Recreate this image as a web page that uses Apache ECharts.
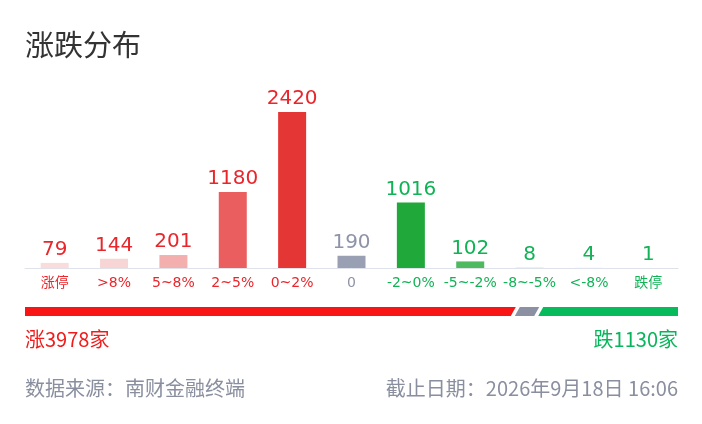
<!DOCTYPE html>
<html>
<head>
<meta charset="utf-8">
<script src="https://cdn.jsdelivr.net/npm/echarts@6/dist/echarts.min.js"></script>
<style>
html,body{margin:0;padding:0;background:#fff;}
#c{width:702px;height:424px;}
</style>
</head>
<body>
<div id="c"></div>
<script>
var categories = ['涨停', '>8%', '5~8%', '2~5%', '0~2%', '0', '-2~0%', '-5~-2%', '-8~-5%', '<-8%', '跌停'];
var values = [79, 144, 201, 1180, 2420, 190, 1016, 102, 8, 4, 1];
var barColors = ['#fadcdc', '#f8d5d5', '#f3aeae', '#ea5e5f', '#e53636', '#9aa0b3', '#20a83b', '#4dba5f', '#cdeed4', '#def3e3', '#eef8f1'];
var labelColors = ['#e8262b', '#e8262b', '#e8262b', '#e8262b', '#e8262b', '#8e93a8', '#12b256', '#12b256', '#12b256', '#12b256', '#12b256'];
var upCount = 3978, flatCount = 190, downCount = 1130;
var titleText = '涨跌分布';
var upText = '涨' + upCount + '家';
var downText = '跌' + downCount + '家';
var sourceText = '数据来源：南财金融终端';
var dateText = '截止日期：2026年9月18日 16:06';

var segValues = [upCount, flatCount, downCount];
var segColors = ['#f91515', '#8b90a3', '#07ba5b'];
var total = upCount + flatCount + downCount;
var segData = [];
var acc = 0;
for (var i = 0; i < segValues.length; i++) {
  segData.push({ value: [acc, acc + segValues[i], i], itemStyle: { color: segColors[i] } });
  acc += segValues[i];
}

var chart = echarts.init(document.getElementById('c'));
var cjk = '"Noto Sans CJK SC", sans-serif';
var latin = '"DejaVu Sans", "Noto Sans CJK SC", sans-serif';

chart.setOption({
  animation: false,
  grid: [
    { left: 25, right: 24, top: 112, bottom: 156 },
    { left: 25, right: 24, top: 307, height: 9 }
  ],
  xAxis: [
    {
      type: 'category', gridIndex: 0, data: categories,
      axisLine: { lineStyle: { color: '#dfe2ea', width: 1 } },
      axisTick: { show: false },
      axisLabel: {
        interval: 0, margin: 8, fontSize: 14, fontFamily: latin,
        color: function (v, idx) { return labelColors[idx]; }
      }
    },
    { type: 'value', gridIndex: 1, min: 0, max: total, show: false }
  ],
  yAxis: [
    { type: 'value', gridIndex: 0, min: 0, max: 2420, show: false },
    { type: 'value', gridIndex: 1, min: 0, max: 1, show: false }
  ],
  series: [
    {
      type: 'bar', xAxisIndex: 0, yAxisIndex: 0, barWidth: 28,
      data: values.map(function (v, i) {
        return {
          value: v,
          itemStyle: { color: barColors[i] },
          label: { color: labelColors[i] }
        };
      }),
      label: { show: true, position: 'top', distance: 3, fontSize: 20, fontFamily: latin }
    },
    {
      type: 'custom', xAxisIndex: 1, yAxisIndex: 1,
      data: segData,
      encode: { x: [0, 1] },
      renderItem: function (params, api) {
        var idx = api.value(2);
        var s = api.coord([api.value(0), 0]);
        var e = api.coord([api.value(1), 1]);
        var yb = s[1], yt = e[1];
        var g = 4, k = 5;
        var xs = s[0], xe = e[0];
        var lb, lt, rb, rt;
        if (idx === 0) { lb = xs; lt = xs; } else { lb = xs + g / 2 - k / 2; lt = xs + g / 2 + k / 2; }
        if (idx === 2) { rb = xe; rt = xe; } else { rb = xe - g / 2 - k / 2; rt = xe - g / 2 + k / 2; }
        return {
          type: 'polygon',
          shape: { points: [[lb, yb], [lt, yt], [rt, yt], [rb, yb]] },
          style: { fill: api.visual('color') }
        };
      }
    }
  ],
  graphic: [
    { type: 'text', left: 25, top: 30, style: { text: titleText, fontSize: 29, fontFamily: cjk, fill: '#333333' } },
    { type: 'text', left: 25, top: 329, style: { text: upText, fontSize: 20, fontFamily: cjk, fill: '#f01b1b' } },
    { type: 'text', right: 24, top: 329, style: { text: downText, fontSize: 20, fontFamily: cjk, fill: '#07b55a' } },
    { type: 'text', left: 25, top: 378, style: { text: sourceText, fontSize: 20, fontFamily: cjk, fill: '#8a8fa0' } },
    { type: 'text', right: 24, top: 378, style: { text: dateText, fontSize: 20, fontFamily: cjk, fill: '#8a8fa0' } }
  ]
});
</script>
</body>
</html>
